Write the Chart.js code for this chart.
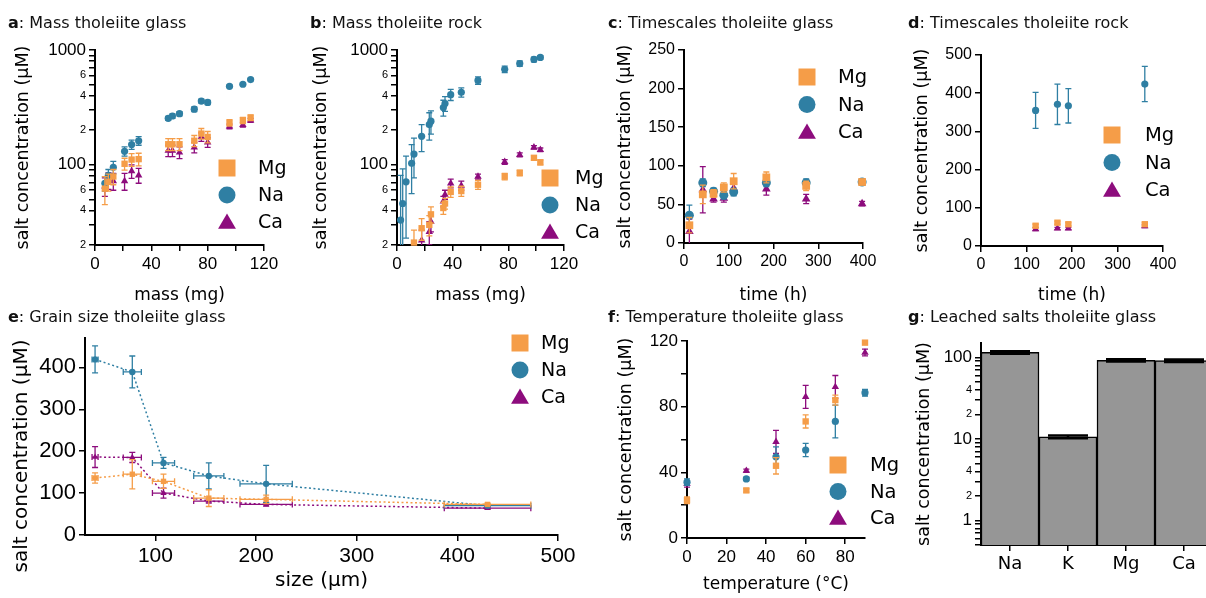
<!DOCTYPE html>
<html lang="en">
<head>
<meta charset="UTF-8">
<title>Salt leaching from tholeiite</title>
<script src="https://cdn.jsdelivr.net/npm/chart.js"></script>
<style>
  body { margin: 0; width: 1206px; height: 598px; overflow: hidden; position: relative; background: #fff; font-family: "DejaVu Sans", sans-serif; }
  canvas { position: absolute; }
  .ttl { position: absolute; font-size: 16px; line-height: 20px; color: #111; white-space: nowrap; z-index: 2; }
  .ytl { position: absolute; width: 260px; height: 24px; line-height: 24px; text-align: center; font-size: 20px; color: #000; transform: rotate(-90deg); white-space: nowrap; z-index: 2; }
</style>
</head>
<body>
  <div class="ttl" style="left:8px;top:13px"><b>a</b>: Mass tholeiite glass</div>
  <div class="ttl" style="left:310px;top:13px"><b>b</b>: Mass tholeiite rock</div>
  <div class="ttl" style="left:608px;top:13px"><b>c</b>: Timescales tholeiite glass</div>
  <div class="ttl" style="left:908px;top:13px"><b>d</b>: Timescales tholeiite rock</div>
  <div class="ttl" style="left:8px;top:307px"><b>e</b>: Grain size tholeiite glass</div>
  <div class="ttl" style="left:608px;top:307px"><b>f</b>: Temperature tholeiite glass</div>
  <div class="ttl" style="left:908px;top:307px"><b>g</b>: Leached salts tholeiite glass</div>
  <div class="ytl" style="left:-110px;top:444px">salt concentration (µM)</div>

  <canvas id="chartA" width="290" height="280" style="left:0;top:30px"></canvas>
  <canvas id="chartB" width="320" height="280" style="left:300px;top:30px"></canvas>
  <canvas id="chartC" width="300" height="280" style="left:600px;top:30px"></canvas>
  <canvas id="chartD" width="306" height="280" style="left:900px;top:30px"></canvas>
  <canvas id="chartE" width="600" height="278" style="left:0;top:320px"></canvas>
  <canvas id="chartF" width="300" height="278" style="left:600px;top:320px"></canvas>
  <canvas id="chartG" width="340" height="278" style="left:900px;top:320px"></canvas>

<script>
// a: mass series, tholeiite glass (mg, µM)
const massA = [7, 9.5, 13, 21, 26, 31, 52, 55, 60, 70.5, 75.5, 80, 95.5, 105, 110.5];
const mgA = [62, 71, 79, 102, 111, 112, 151, 151, 151, 162, 187, 175, 232, 244, 257];
const naA = [69, 81, 95, 131, 150, 162, 254, 266, 279, 305, 359, 349, 483, 503, 553];
const caA = [65, 73, 72, 72, 88, 81, 133, 133, 128, 142, 175, 157, 216, 223, 244];
const mgAErr = [17, 12, 12, 12, 14, 14, 18, 18, 18, 18, 20, 20, 15, 15, 15];
const naAErr = [10, 10, 12, 12, 14, 14, 10, 12, 12, 14, 14, 14, 12, 12, 12];
const caAErr = [12, 12, 12, 12, 12, 12, 15, 15, 15, 15, 15, 15, 10, 10, 10];

// b: mass series, tholeiite rock
const massB = [2.6, 4.1, 6.5, 10.5, 12.2, 17.7, 23.2, 24.4, 33.3, 34.5, 38.6, 46.2, 58.2, 77.4, 88.2, 98.4, 103];
const mgB = [null, null, null, null, 21, 28, 30, 37, 42, 46, 58, 59, 67, 79, 85, 115, 105];
const naB = [33, 46, 71, 103, 124, 177, 224, 240, 315, 342, 408, 428, 543, 679, 762, 828, 861];
const caB = [null, null, null, null, null, 22, 26, 32, 48, 55, 69, 66, 79, 106, 122, 142, 135];
const mgBErr = [0, 0, 0, 0, 6, 6, 6, 6, 5, 5, 6, 6, 6, 5, 5, 5, 5];
const naBErr = [48, 46, 48, 47, 47, 47, 60, 55, 50, 50, 45, 40, 40, 45, 40, 40, 30];
const caBErr = [0, 0, 0, 0, 0, 5, 6, 6, 5, 5, 6, 6, 4, 5, 5, 5, 5];

// c: time series, tholeiite glass (h)
const hoursC = [12, 42, 66, 89, 111, 184, 273, 398];
const mgC = [23, 63, 64, 72, 80, 85, 74, 79];
const naC = [36, 78, 67, 62, 66, 78, 78, 79];
const caC = [15, 69, 57, 58, 71, 70, 57, 51];
const mgCErr = [10, 12, 5, 6, 10, 7, 6, 3];
const naCErr = [13, 5, 4, 5, 5, 5, 5, 3];
const caCErr = [16, 30, 4, 5, 6, 8, 6, 3];

// d: time series, tholeiite rock
const hoursD = [120, 168, 192, 360];
const mgD = [53, 61, 57, 57];
const naD = [355, 371, 367, 424];
const caD = [44, 46, 46, 52];
const mgDErr = [4, 4, 4, 4];
const naDErr = [47, 53, 45, 46];
const caDErr = [4, 3, 3, 4];

// e: grain size (µm) with size spread
const sizeE = [40, 77, 108, 153, 210, 430];
const sizeEErr = [3, 9, 11, 15, 26, 43];
const mgE = [136, 145, 128, 88, 85, 73];
const naE = [419, 389, 172, 141, 122, 70];
const caE = [186, 185, 100, 81, 73, 64];
const mgEErr = [12, 35, 17, 20, 10, 3];
const naEErr = [32, 38, 13, 31, 44, 3];
const caEErr = [25, 12, 12, 5, 4, 3];

// f: temperature (°C)
const tempF = [0, 30, 45, 60, 75, 90];
const mgF = [23, 29, 44, 71, 84, 119];
const naF = [34, 36, 49.5, 53.6, 71, 88.5];
const caF = [33, 41, 58.6, 86, 92, 113];
const mgFErr = [2, 1, 5, 4, 3, 1];
const naFErr = [2, 1, 6, 4, 10, 2];
const caFErr = [2, 1, 7, 7, 7, 2];

// g: total leached salts
const ions = ['Na', 'K', 'Mg', 'Ca'];
const leached = [115, 10.6, 92, 91];
const leachedErr = [4, 0.4, 3, 3];

// tick lists
const logTicksAB = [20, 30, 40, 50, 60, 70, 80, 90, 100, 200, 300, 400, 500, 600, 700, 800, 900, 1000];
const logTicksG = [0.5, 0.6, 0.7, 0.8, 0.9, 1, 2, 3, 4, 5, 6, 7, 8, 9, 10, 20, 30, 40, 50, 60, 70, 80, 90, 100];

const MG = '#f59d48', NA = '#2f7fa3', CA = '#8d0c7d';
const TEXT = '"DejaVu Sans", sans-serif';
const NUM = '"Liberation Sans", Arial, sans-serif';

Chart.defaults.font.family = TEXT;
Chart.defaults.color = '#000';

const pts = (xs, ys) => xs.map((x, i) => ({ x, y: ys[i] }));

// error bars drawn from the per-dataset errX / errY arrays
const errorBars = {
  id: 'errorBars',
  afterDatasetDraw(chart, { index, meta }) {
    const ds = chart.data.datasets[index];
    if (!ds.errY && !ds.errX) return;
    const { ctx, chartArea: a } = chart;
    const xs = chart.scales[meta.xAxisID], ys = chart.scales[meta.yAxisID];
    const cap = ds.errCap ?? 3;
    ctx.save();
    ctx.beginPath();
    ctx.rect(a.left - 10, 0, chart.width, a.bottom);
    ctx.clip();
    ctx.strokeStyle = ds.errColor || ds.borderColor;
    ctx.lineWidth = ds.errWidth ?? 1.3;
    meta.data.forEach((el, i) => {
      const raw = ds.data[i];
      const y = typeof raw === 'object' ? raw.y : raw;
      if (y == null) return;
      const px = el.x;
      const py = ys.getPixelForValue(y);
      ctx.beginPath();
      if (ds.errY && ds.errY[i]) {
        const e = ds.errY[i];
        const hi = ys.getPixelForValue(y + e);
        const lo = y - e > 0 ? ys.getPixelForValue(y - e) : a.bottom + 20;
        ctx.moveTo(px, hi); ctx.lineTo(px, lo);
        ctx.moveTo(px - cap, hi); ctx.lineTo(px + cap, hi);
        ctx.moveTo(px - cap, lo); ctx.lineTo(px + cap, lo);
      }
      if (ds.errX && ds.errX[i]) {
        const e = ds.errX[i];
        const l = xs.getPixelForValue(raw.x - e), r = xs.getPixelForValue(raw.x + e);
        ctx.moveTo(l, py); ctx.lineTo(r, py);
        ctx.moveTo(l, py - cap); ctx.lineTo(l, py + cap);
        ctx.moveTo(r, py - cap); ctx.lineTo(r, py + cap);
      }
      ctx.stroke();
    });
    ctx.restore();
  }
};

function marker(ctx, style, x, y, s) {
  ctx.beginPath();
  if (style === 'rect') {
    ctx.rect(x - s, y - s, 2 * s, 2 * s);
  } else if (style === 'triangle') {
    ctx.moveTo(x, y - s);
    ctx.lineTo(x + s * 1.05, y + s * 0.8);
    ctx.lineTo(x - s * 1.05, y + s * 0.8);
    ctx.closePath();
  } else {
    ctx.arc(x, y, s, 0, Math.PI * 2);
  }
  ctx.fill();
}

// key with big symbols, placed inside the panel
const keyBox = {
  id: 'keyBox',
  afterDraw(chart, args, o) {
    if (o.x === undefined) return;
    const { ctx } = chart;
    ctx.save();
    ctx.font = `${o.size}px ${TEXT}`;
    ctx.textBaseline = 'middle';
    chart.data.datasets.forEach((ds, i) => {
      const y = o.y + i * o.gap;
      ctx.fillStyle = ds.backgroundColor;
      marker(ctx, ds.pointStyle, o.x, y, o.s);
      ctx.fillStyle = '#000';
      ctx.fillText(ds.label, o.x + o.dx, y + 1);
    });
    ctx.restore();
  }
};

Chart.register(errorBars, keyBox);

function series(label, color, style, r, xs, ys, err, extra) {
  return Object.assign({
    label, data: pts(xs, ys), errY: err,
    pointStyle: style, pointRadius: r, pointBorderWidth: 0,
    backgroundColor: color, borderColor: color, clip: false
  }, extra);
}

function trio(xs, mg, na, ca, errs, radii, extra) {
  return [
    series('Mg', MG, 'rect', radii[0], xs, mg, errs[0], extra),
    series('Na', NA, 'circle', radii[1], xs, na, errs[1], extra),
    series('Ca', CA, 'triangle', radii[2], xs, ca, errs[2], extra)
  ];
}

function axis(o) {
  const big = o.big;
  const ticks = {
    autoSkip: false, maxRotation: 0, padding: o.pad ?? 3,
    font: big ? c => ({ family: NUM, size: big.includes(c.tick && c.tick.value) ? o.size : 11 })
              : { family: o.family || NUM, size: o.size }
  };
  if (o.label) ticks.callback = o.label;
  const cfg = {
    type: o.type || 'linear',
    afterFit: s => {
      if (o.w !== undefined) s.width = o.w;
      if (o.h !== undefined) s.height = o.h;
    },
    border: { color: '#000', width: 2 },
    grid: { drawOnChartArea: false, offset: false, color: '#000', lineWidth: 1.5, tickLength: 6 },
    ticks,
    title: {
      display: !!o.title, text: o.title,
      font: { size: o.titleSize || 17.5 }, padding: o.titlePad || 0
    }
  };
  if (o.min !== undefined) cfg.min = o.min;
  if (o.max !== undefined) cfg.max = o.max;
  if (o.ticks) cfg.afterBuildTicks = s => { s.ticks = o.ticks.map(v => ({ value: v })); };
  return cfg;
}

const only = keep => v => keep.includes(v) ? String(v) : '';
const logLabel = (big, small) => v => big.includes(v) ? String(v) : (small.includes(v) ? String(v).charAt(0) : '');

function panel(id, type, datasets, scales, pad, key, labels) {
  return new Chart(document.getElementById(id), {
    type,
    data: { labels, datasets },
    options: {
      responsive: false, animation: false, events: [],
      layout: { padding: pad },
      scales,
      plugins: { legend: { display: false }, tooltip: { enabled: false }, keyBox: key || {} }
    }
  });
}

const yTitle = 'salt concentration (µM)';

// a
panel('chartA', 'scatter',
  trio(massA, mgA, naA, caA, [mgAErr, naAErr, caAErr], [4.5, 3.6, 4.3]),
  {
    x: axis({ min: 0, max: 120, ticks: [0, 20, 40, 60, 80, 100, 120], label: only([0, 40, 80, 120]), size: 17, h: 65, title: 'mass (mg)', titleSize: 17, titlePad: { bottom: 4 } }),
    y: axis({ type: 'logarithmic', min: 20, max: 1000, ticks: logTicksAB, big: [100, 1000], label: logLabel([100, 1000], [20, 40, 60, 200, 400, 600]), size: 17, w: 95, title: yTitle, titlePad: { top: 13 } })
  },
  { left: 0, top: 20, right: 26, bottom: 0 },
  { x: 227, y: 138, gap: 27, dx: 31, size: 19, s: 8.5 });

// b
panel('chartB', 'scatter',
  trio(massB, mgB, naB, caB, [mgBErr, naBErr, caBErr], [4.5, 3.6, 4.3]),
  {
    x: axis({ min: 0, max: 120, ticks: [0, 20, 40, 60, 80, 100, 120], label: only([0, 40, 80, 120]), size: 17, h: 65, title: 'mass (mg)', titleSize: 17, titlePad: { bottom: 4 } }),
    y: axis({ type: 'logarithmic', min: 20, max: 1000, ticks: logTicksAB, big: [100, 1000], label: logLabel([100, 1000], [20, 40, 60, 200, 400, 600]), size: 17, w: 97, title: yTitle, titlePad: { top: 11 } })
  },
  { left: 0, top: 20, right: 56, bottom: 0 },
  { x: 250, y: 148, gap: 27, dx: 25, size: 19, s: 8.5 });

// c
panel('chartC', 'scatter',
  trio(hoursC, mgC, naC, caC, [mgCErr, naCErr, caCErr], [5.5, 4.5, 5]),
  {
    x: axis({ min: 0, max: 400, ticks: [0, 100, 200, 300, 400], size: 16, h: 67, title: 'time (h)', titleSize: 17, titlePad: { bottom: 4 } }),
    y: axis({ min: 0, max: 250, ticks: [0, 50, 100, 150, 200, 250], size: 16, w: 84, title: yTitle, titlePad: { top: 15 } })
  },
  { left: 0, top: 20, right: 37, bottom: 0 },
  { x: 207, y: 47, gap: 27.5, dx: 31, size: 19.5, s: 8.5 });

// d
panel('chartD', 'scatter',
  trio(hoursD, mgD, naD, caD, [mgDErr, naDErr, caDErr], [4.5, 3.6, 4.3]),
  {
    x: axis({ min: 0, max: 400, ticks: [0, 100, 200, 300, 400], size: 16, h: 64, title: 'time (h)', titleSize: 17, titlePad: { bottom: 4 } }),
    y: axis({ min: 0, max: 500, ticks: [0, 100, 200, 300, 400, 500], size: 16, w: 81, title: yTitle, titlePad: { top: 12 } })
  },
  { left: 0, top: 25, right: 43, bottom: 0 },
  { x: 212, y: 105, gap: 27.5, dx: 33, size: 19.5, s: 8.5 });

// e: dotted connecting lines and size spread; y title set as a page element
panel('chartE', 'scatter',
  trio(sizeE, mgE, naE, caE, [mgEErr, naEErr, caEErr], [3.8, 3.2, 3.6],
    { showLine: true, borderWidth: 1.5, borderDash: [2, 2.5], errX: sizeEErr }),
  {
    x: axis({ min: 30, max: 500, ticks: [100, 200, 300, 400, 500], size: 21, h: 63, title: 'size (µm)', titleSize: 20, titlePad: { bottom: 5 } }),
    y: axis({ min: 0, max: 470, ticks: [0, 100, 200, 300, 400], size: 22, w: 85 })
  },
  { left: 0, top: 18, right: 42, bottom: 0 },
  { x: 520, y: 23, gap: 27, dx: 21, size: 19, s: 8.5 });

// f
panel('chartF', 'scatter',
  trio(tempF, mgF, naF, caF, [mgFErr, naFErr, caFErr], [4.5, 3.6, 4.3]),
  {
    x: axis({ min: 0, max: 90, ticks: [0, 20, 40, 60, 80], size: 17, h: 60, title: 'temperature (°C)', titleSize: 17, titlePad: { bottom: 3 } }),
    y: axis({ min: 0, max: 120, ticks: [0, 20, 40, 60, 80, 100, 120], label: only([0, 40, 80, 120]), size: 17, w: 87, title: yTitle, titlePad: { top: 16 } })
  },
  { left: 0, top: 21, right: 35, bottom: 0 },
  { x: 238, y: 145, gap: 26.5, dx: 32, size: 19.5, s: 8.5 });

// g: bars on a log axis
panel('chartG', 'bar',
  [{
    label: 'leached', data: leached, errY: leachedErr, errCap: 20, errWidth: 2.5, errColor: '#000',
    backgroundColor: '#969696', borderColor: '#000', borderWidth: 1.5,
    barPercentage: 1, categoryPercentage: 1
  }],
  {
    x: axis({ type: 'category', size: 18, family: TEXT, h: 53 }),
    y: axis({ type: 'logarithmic', min: 0.5, max: 150, ticks: logTicksG, big: [1, 10, 100], label: logLabel([1, 10, 100], [2, 4, 20, 40]), size: 17, w: 81, title: yTitle, titlePad: { top: 14 } })
  },
  { left: 0, top: 23, right: 27, bottom: 0 },
  null, ions);
</script>
</body>
</html>
